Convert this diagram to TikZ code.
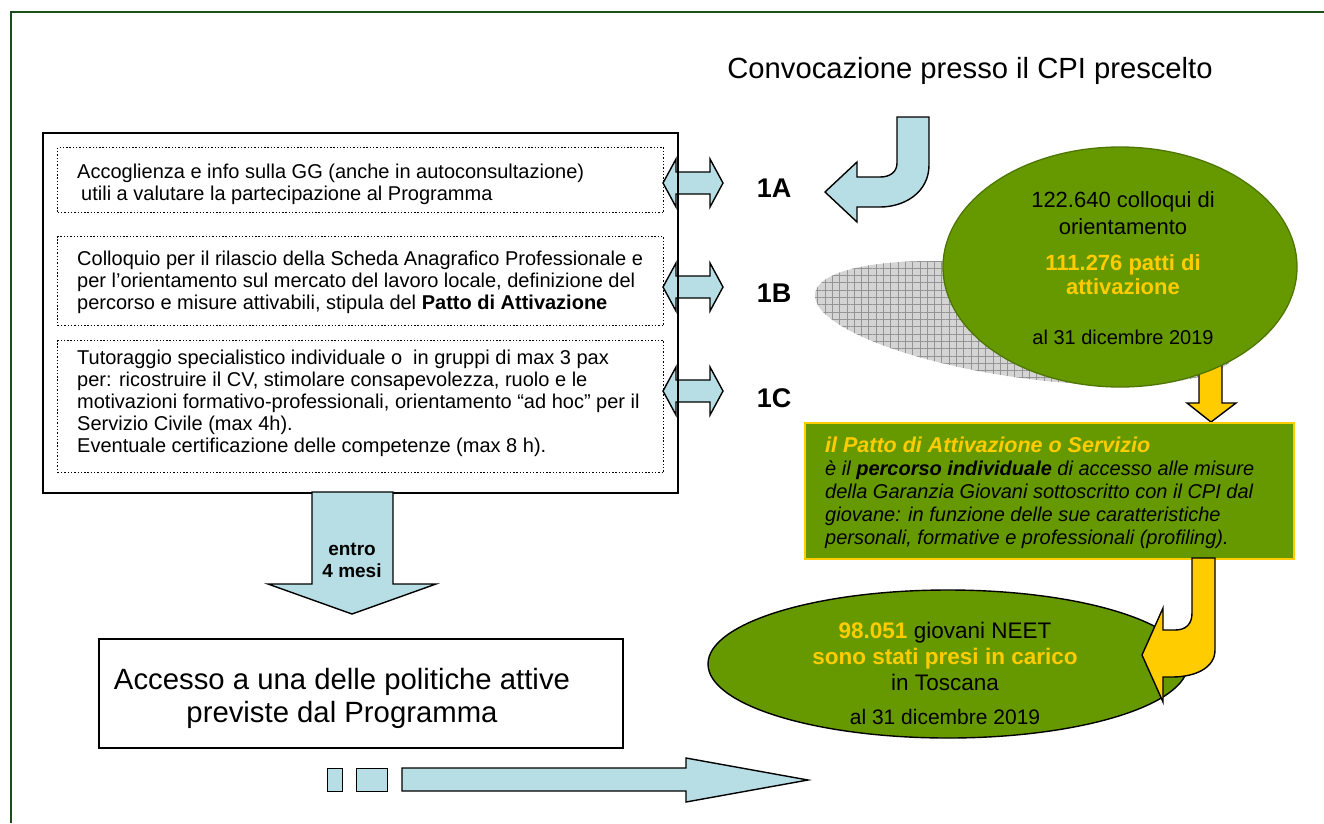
\documentclass[tikz,border=0pt]{standalone}
\usepackage{fontspec}
\setmainfont{Liberation Sans}
\usetikzlibrary{shapes.geometric,patterns.meta}
\definecolor{lblue}{RGB}{183,222,228}
\definecolor{ggreen}{RGB}{102,153,0}
\definecolor{gyellow}{RGB}{255,204,0}
\definecolor{framegreen}{RGB}{28,78,28}
\definecolor{edgegreen}{RGB}{78,118,0}
\newcommand\fsz[2]{\fontsize{#1}{#2}\selectfont}
\begin{document}
\begin{tikzpicture}[x=1pt,y=-1pt,
  blueshape/.style={fill=lblue,draw=black,line width=1.4pt,line join=miter},
  yellowshape/.style={fill=gyellow,draw=black,line width=1.4pt,line join=miter},
  plainbox/.style={draw=black,line width=1.5pt,inner sep=0pt,anchor=north west},
  dotbox/.style={draw=black,line width=1.4pt,dash pattern=on 1.4pt off 1.9pt,inner sep=0pt,anchor=north west},
  bodytext/.style={anchor=west,align=left,inner sep=0pt,font=\fsz{20}{22}},
  steplabel/.style={inner sep=0pt,font=\bfseries\fsz{27}{30}},
  greenell/.style={ellipse,fill=ggreen,inner sep=0pt},
  ctext/.style={align=center,inner sep=0pt}
]
\useasboundingbox (0,0) rectangle (1324,823);

% frame
\draw[framegreen,line width=2pt] (11,823) -- (11,12) -- (1324,12);

% title
\node[font=\fsz{29.2}{33},inner sep=0pt] (title) at (970,71) {Convocazione presso il CPI prescelto};

% double arrows 1A 1B 1C
\foreach \cy/\nm in {183/a,287/b,391/c}{
  \draw[blueshape] (663,\cy) -- (676,\cy-24) -- (676,\cy-11) -- (710,\cy-11) -- (710,\cy-24)
     -- (723,\cy) -- (710,\cy+24) -- (710,\cy+11) -- (676,\cy+11) -- (676,\cy+24) -- cycle;
}
\node[steplabel] (l1a) at (774,188) {1A};
\node[steplabel] (l1b) at (774,293) {1B};
\node[steplabel] (l1c) at (774,398) {1C};

% main box and dotted boxes
\node[plainbox,minimum width=635pt,minimum height=360pt] (main) at (42,132) {};
\node[dotbox,minimum width=606pt,minimum height=65pt] (d1) at (57,147) {};
\node[dotbox,minimum width=606pt,minimum height=89pt] (d2) at (57,236) {};
\node[dotbox,minimum width=606pt,minimum height=132pt] (d3) at (57,340) {};

\node[bodytext] (t1) at (77,184) {Accoglienza e info sulla GG (anche in autoconsultazione)\\\hspace*{4pt}utili a valutare la partecipazione al Programma};
\node[bodytext] (t2) at (77,282) {Colloquio per il rilascio della Scheda Anagrafico Professionale e\\per l’orientamento sul mercato del lavoro locale, definizione del\\percorso e misure attivabili, stipula del \textbf{Patto di Attivazione}};
\node[bodytext] (t3) at (77,403) {Tutoraggio specialistico individuale o\ \ in gruppi di max 3 pax\\per: ricostruire il CV, stimolare consapevolezza, ruolo e le\\motivazioni formativo-professionali, orientamento “ad hoc” per il\\Servizio Civile (max 4h).\\Eventuale certificazione delle competenze (max 8 h).};

% down arrow "entro 4 mesi"
\draw[blueshape] (312,492) -- (393,492) -- (393,584) -- (436,584) -- (352,614) -- (268,584) -- (312,584) -- cycle;
\node[ctext,font=\bfseries\fsz{19}{22}] (entro) at (352,560) {entro\\4 mesi};

% access box
\node[plainbox,minimum width=524pt,minimum height=109pt] (acc) at (98,638) {};
\node[ctext,font=\fsz{29.3}{33}] (acct) at (342,698) {Accesso a una delle politiche attive\\previste dal Programma};

% bottom arrow with squares
\node[blueshape,inner sep=0pt,anchor=north west,minimum width=15.5pt,minimum height=23pt] (sq1) at (326.5,768) {};
\node[blueshape,inner sep=0pt,anchor=north west,minimum width=31pt,minimum height=23pt] (sq2) at (356,768) {};
\draw[blueshape] (402,768) -- (686,768) -- (686,758) -- (808,780) -- (686,802) -- (686,791) -- (402,791) -- cycle;

% curved arrow from title
\draw[blueshape] (897,117) -- (929,117) -- (929,165) .. controls (929,192) and (905,207) .. (880,207)
  -- (857,207) -- (857,222) -- (825,192) -- (857,162) -- (857,177) -- (880,177)
  .. controls (890,177) and (897,172) .. (897,163) -- cycle;

% grey shadow ellipse
\coordinate (gc) at (1025,323);
\path[fill=black!17,postaction={pattern={Hatch[angle=0,distance=7.3pt,line width=0.6pt]},pattern color=black!42},
  rotate around={-8:(gc)}] (gc) ellipse [x radius=212pt,y radius=55pt];

% yellow arrow down to box
\draw[yellowshape] (1199,360) -- (1222,360) -- (1222,403) -- (1236,403) -- (1211,422) -- (1187,403) -- (1199,403) -- cycle;

% green ellipse 1
\node[greenell,draw=edgegreen,line width=1.3pt,minimum width=354pt,minimum height=240pt] (e1) at (1120,267) {};
\node[ctext,font=\fsz{22}{27}] (e1a) at (1123,213) {122.640 colloqui di\\orientamento};
\node[ctext,font=\bfseries\fsz{22}{24},text=gyellow] (e1b) at (1123,275) {111.276 patti di\\attivazione};
\node[ctext,font=\fsz{20}{24}] (e1c) at (1123,337) {al 31 dicembre 2019};

% yellow-bordered box
\node[draw=gyellow,line width=2pt,fill=ggreen,inner sep=0pt,anchor=north west,minimum width=489pt,minimum height=136pt] (pbox) at (804,422) {};
\node[anchor=west,align=left,inner sep=0pt,font=\itshape\fsz{20}{23}] (ptext) at (825,493)
  {{\bfseries\color{gyellow}\fsz{21.5}{23}il Patto di Attivazione o Servizio}\\
   è il \textbf{percorso individuale} di accesso alle misure\\
   della Garanzia Giovani sottoscritto con il CPI dal\\
   giovane: in funzione delle sue caratteristiche\\
   personali, formative e professionali (profiling).};

% green ellipse 2
\node[greenell,draw=black,line width=1.4pt,minimum width=480pt,minimum height=148pt] (e2) at (948,664) {};
\node[ctext,font=\fsz{22.5}{26}] (e2a) at (945,656) {{\bfseries\color{gyellow}98.051} giovani NEET\\{\bfseries\color{gyellow}sono stati presi in carico}\\in Toscana};
\node[ctext,font=\fsz{21}{24}] (e2b) at (945,717) {al 31 dicembre 2019};

% yellow curved arrow to ellipse 2
\draw[yellowshape] (1192,558) -- (1215,558) -- (1215,650) .. controls (1215,668) and (1195,677) .. (1172,677)
  -- (1163,677) -- (1163,702) -- (1142,655) -- (1163,608) -- (1163,630) -- (1175,630)
  .. controls (1186,630) and (1192,624) .. (1192,613) -- cycle;
\end{tikzpicture}
\end{document}
